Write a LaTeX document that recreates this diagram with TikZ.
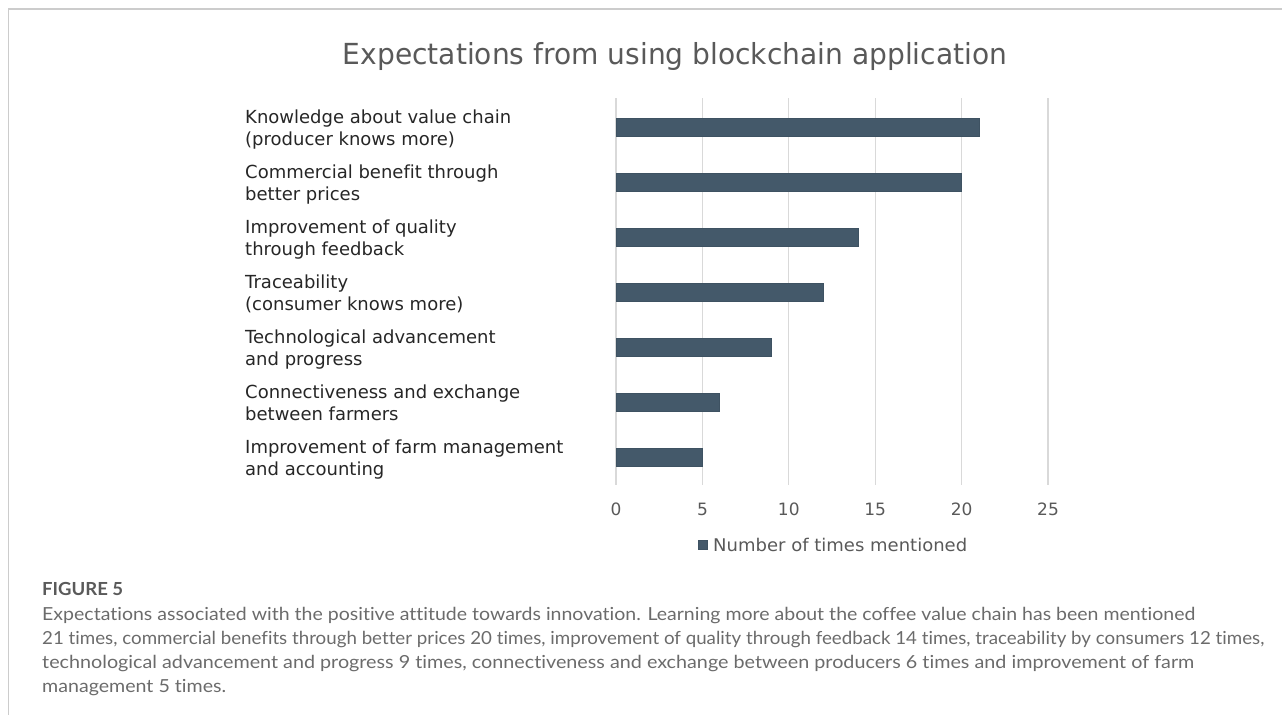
\documentclass[tikz,border=0pt]{standalone}
\usepackage{fontspec}
\usepackage{graphicx}
\setmainfont{Lato}[Ligatures={NoCommon,NoRare}]
\newfontfamily\chartfont{DejaVu Sans}[Ligatures={NoCommon,NoRare}]
\newcommand{\fitw}[2]{\resizebox{#1pt}{\height}{#2}}
\definecolor{barcol}{HTML}{44596A}
\definecolor{baredge}{HTML}{3E5262}
\definecolor{gridcol}{HTML}{D9D9D9}
\definecolor{axtext}{HTML}{595959}
\definecolor{captext}{HTML}{6B6B6B}
\definecolor{figtext}{HTML}{5A5A5A}
\definecolor{framecol}{HTML}{CCCCCC}
\tikzset{
  catlabel/.style={anchor=base west, inner sep=0pt, text=black!85, font=\chartfont\fontsize{18}{22}\selectfont},
  ticklabel/.style={anchor=base, inner sep=0pt, text=axtext, font=\chartfont\fontsize{17}{20}\selectfont},
  capline/.style={anchor=base west, inner sep=0pt, text=captext, font=\fontsize{18}{24}\selectfont},
  gridline/.style={draw=gridcol, line width=1.2pt},
  barbox/.style={fill=barcol, draw=baredge, line width=0.6pt}
}
\begin{document}
\begin{tikzpicture}[x=1pt,y=-1pt]
\useasboundingbox (0,0) rectangle (1282,715);
% frame
\draw[framecol, line width=1.3pt] (1282,9) -- (8.5,9) -- (8.5,715);
% title
\node[anchor=base, inner sep=0pt, text=axtext, font=\chartfont\fontsize{29}{34}\selectfont] (title) at (675,64) {\fitw{664}{Expectations from using blockchain application}};
% grid
\foreach \v in {0,...,5} {
  \draw[gridline] ({616+\v*86.4},98) -- ({616+\v*86.4},485);
  \node[ticklabel] (tick\v) at ({616+\v*86.4},515) {\the\numexpr\v*5\relax};
}
% bars
\foreach \val [count=\i from 0] in {21,20,14,12,9,6,5} {
  \fill[barbox] (616,{127+\i*55-9}) rectangle ({616+\val*17.28},{127+\i*55+9});
}
% category labels
\node[catlabel] (l1a) at (245,{127-4}) {Knowledge about value chain};
\node[catlabel] (l1b) at (245,{127+18}) {(producer knows more)};
\node[catlabel] (l2a) at (245,{182-4}) {Commercial benefit through};
\node[catlabel] (l2b) at (245,{182+18}) {better prices};
\node[catlabel] (l3a) at (245,{237-4}) {Improvement of quality};
\node[catlabel] (l3b) at (245,{237+18}) {through feedback};
\node[catlabel] (l4a) at (245,{292-4}) {Traceability};
\node[catlabel] (l4b) at (245,{292+18}) {(consumer knows more)};
\node[catlabel] (l5a) at (245,{347-4}) {Technological advancement};
\node[catlabel] (l5b) at (245,{347+18}) {and progress};
\node[catlabel] (l6a) at (245,{402-4}) {Connectiveness and exchange};
\node[catlabel] (l6b) at (245,{402+18}) {between farmers};
\node[catlabel] (l7a) at (245,{457-4}) {Improvement of farm management};
\node[catlabel] (l7b) at (245,{457+18}) {and accounting};
% legend
\fill[barbox] (698,540) rectangle (707,549);
\node[anchor=base west, inner sep=0pt, text=axtext, font=\chartfont\fontsize{17.5}{20}\selectfont] (legend) at (713,551) {\fitw{254}{Number of times mentioned}};
% caption
\node[anchor=base west, inner sep=0pt, text=figtext, font=\bfseries\fontsize{18}{22}\selectfont] (fig) at (42,595) {\fitw{81}{FIGURE 5}};
\node[capline] (c1) at (42,620) {\fitw{1153}{Expectations associated with the positive attitude towards innovation. Learning more about the coffee value chain has been mentioned}};
\node[capline] (c2) at (42,644) {\fitw{1222}{21 times, commercial benefits through better prices 20 times, improvement of quality through feedback 14 times, traceability by consumers 12 times,}};
\node[capline] (c3) at (42,668) {\fitw{1152}{technological advancement and progress 9 times, connectiveness and exchange between producers 6 times and improvement of farm}};
\node[capline] (c4) at (42,692) {\fitw{184}{management 5 times.}};
\end{tikzpicture}
\end{document}
